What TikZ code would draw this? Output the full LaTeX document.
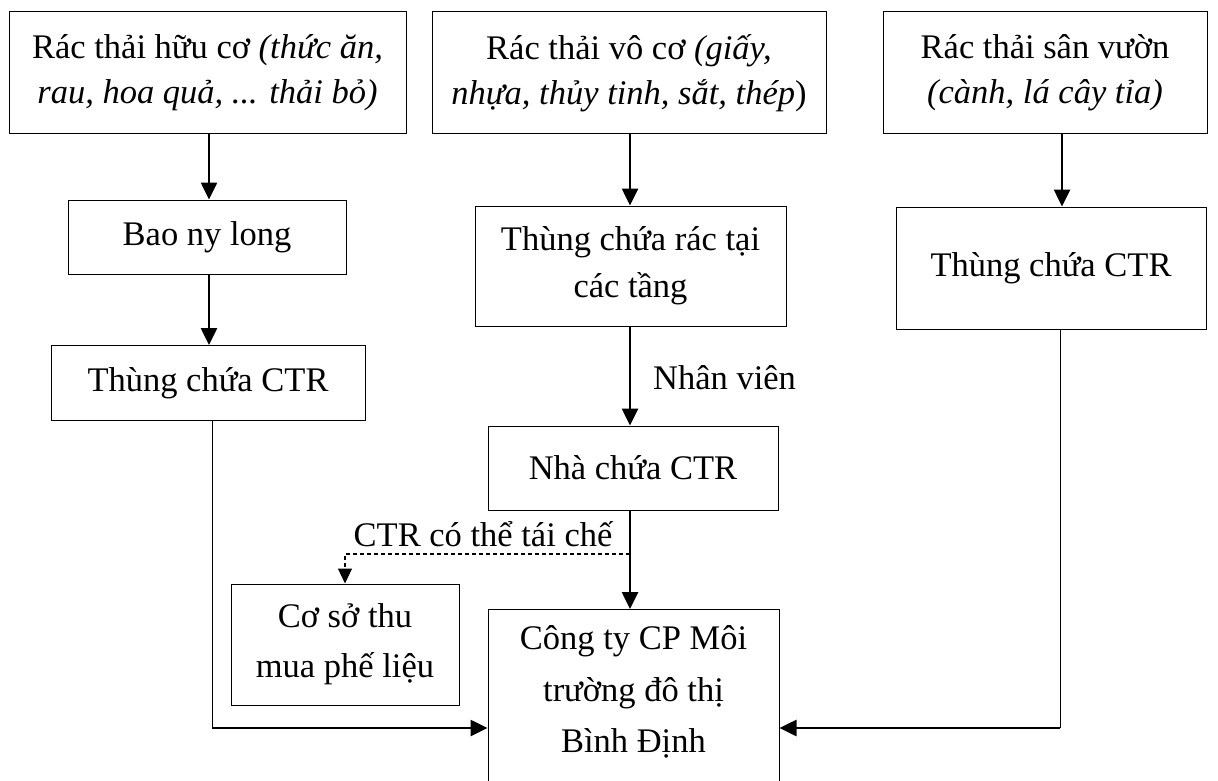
\documentclass[tikz,border=0pt]{standalone}
\usepackage{fontspec}
\setmainfont{Liberation Serif}
\usetikzlibrary{arrows.meta}
\begin{document}
\begin{tikzpicture}[x=1pt,y=-1pt,
  box/.style={draw, line width=1pt, inner sep=0pt, align=center,
              font=\fontsize{34.5}{45}\selectfont},
  flow/.style={line width=2.6pt, -{Triangle[length=17pt,width=16pt]}},
  link/.style={line width=1pt},
  recyc/.style={line width=1.1pt, dash pattern=on 4pt off 3pt,
                -{Triangle[length=15pt,width=14pt]}},
  lbl/.style={inner sep=0pt, font=\fontsize{34.5}{45}\selectfont}]
\useasboundingbox (0,0) rectangle (1218,781);

% source categories
\node[box, minimum width=397, minimum height=122] (huuco) at (207.5,73)
  {Rác thải hữu cơ \textit{(thức ăn,}\\ \textit{rau, hoa quả, ... thải bỏ)}};
\node[box, minimum width=394, minimum height=122] (voco) at (629,73)
  {Rác thải vô cơ \textit{(giấy,}\\ \textit{nhựa, thủy tinh, sắt, thép})};
\node[box, minimum width=324, minimum height=122] (sanvuon) at (1045,73)
  {Rác thải sân vườn\\ \textit{(cành, lá cây tỉa)}};

% intermediate containers
\node[box, minimum width=278, minimum height=74] (bao) at (207,237) {Bao ny long};
\node[box, minimum width=314, minimum height=75] (thungL) at (208,383) {Thùng chứa CTR};
\node[box, minimum width=311, minimum height=120,
      font=\fontsize{34.5}{47}\selectfont] (thungtang) at (630.5,266) {Thùng chứa rác tại\\ các tầng};
\node[box, minimum width=290, minimum height=84] (nha) at (633,468) {Nhà chứa CTR};
\node[box, minimum width=310, minimum height=122] (thungR) at (1051,268) {Thùng chứa CTR};

% destinations
\node[box, minimum width=228, minimum height=121,
      font=\fontsize{34.5}{50}\selectfont] (coso) at (345,644.5) {Cơ sở thu\\ mua phế liệu};
\node[box, minimum width=291, minimum height=220, anchor=north] (cty) at (633.5,609) {};
\node[lbl, align=center, font=\fontsize{34.5}{51.5}\selectfont] (ctytext) at (633.5,692)
  {Công ty CP Môi\\ trường đô thị\\ Bình Định};

% column guides
\coordinate (c1) at (209,0);
\coordinate (c2) at (630,0);
\coordinate (c3) at (1062,0);
\coordinate (lcorner) at (212,728);
\coordinate (rcorner) at (1060,728);
\coordinate (split) at (630,554);

% organic waste column
\draw[flow] (huuco.south -| c1) -- (bao.north -| c1);
\draw[flow] (bao.south -| c1) -- (thungL.north -| c1);
\draw[link] (thungL.south -| lcorner) -- (lcorner);
\draw[flow] (lcorner) -- (cty.west |- lcorner);

% inorganic waste column
\draw[flow] (voco.south -| c2) -- (thungtang.north -| c2);
\draw[flow] (thungtang.south -| c2) -- (nha.north -| c2);
\node[lbl, anchor=base west] (nhanvien) at (653,389) {Nhân viên};
\draw[flow] (nha.south -| c2) -- (cty.north -| c2);
\draw[recyc] (split) -| (coso.north);
\node[lbl, anchor=base] (taiche) at (483,546) {CTR có thể tái chế};

% garden waste column
\draw[flow] (sanvuon.south -| c3) -- (thungR.north -| c3);
\draw[link] (thungR.south -| rcorner) -- (rcorner);
\draw[flow] (rcorner) -- (cty.east |- rcorner);
\end{tikzpicture}
\end{document}
